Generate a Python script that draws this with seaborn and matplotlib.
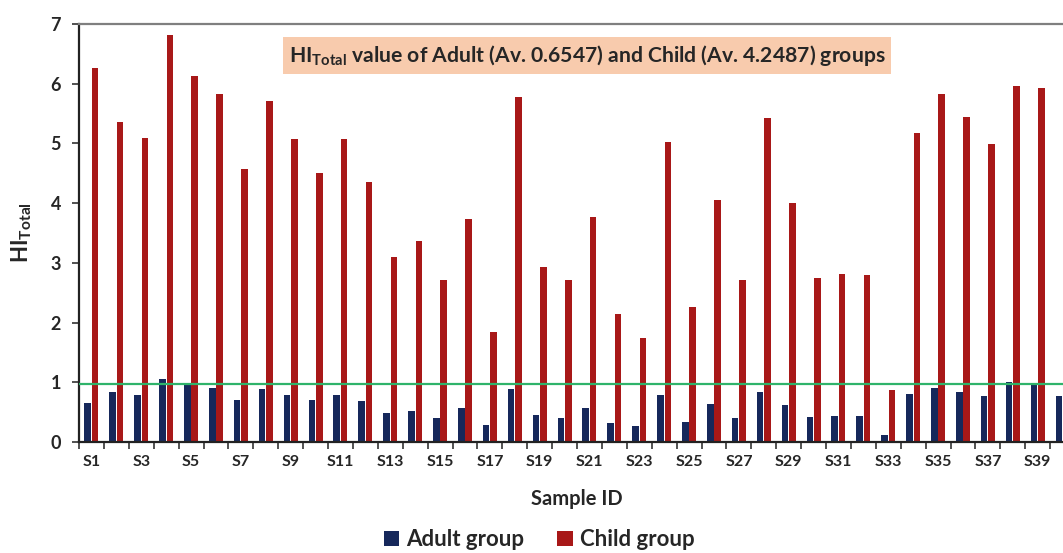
import matplotlib
matplotlib.use("Agg")
import matplotlib.pyplot as plt
import seaborn as sns
import pandas as pd

samples = ["S" + str(i) for i in range(1, 41)]

adult = [0.66, 0.83, 0.79, 1.06, 0.99, 0.90, 0.70, 0.88, 0.78, 0.70,
         0.78, 0.68, 0.48, 0.52, 0.41, 0.57, 0.28, 0.89, 0.45, 0.41,
         0.57, 0.32, 0.26, 0.78, 0.34, 0.63, 0.41, 0.84, 0.62, 0.42,
         0.44, 0.43, 0.12, 0.80, 0.90, 0.84, 0.77, 1.01, 0.99, 0.77]

child = [6.27, 5.36, 5.09, 6.82, 6.13, 5.82, 4.57, 5.71, 5.07, 4.51,
         5.08, 4.36, 3.09, 3.36, 2.71, 3.74, 1.84, 5.77, 2.93, 2.71,
         3.76, 2.14, 1.74, 5.03, 2.26, 4.05, 2.72, 5.42, 4.01, 2.74,
         2.81, 2.80, 0.87, 5.18, 5.83, 5.44, 4.99, 5.97, 5.92, 5.05]

groups = ["Adult group", "Child group"]
threshold = 0.97
title_text = r"$\mathbf{HI_{Total}}$ value of Adult (Av. 0.6547) and Child (Av. 4.2487) groups"

df = pd.DataFrame({
    "Sample": samples * 2,
    "Group": [groups[0]] * len(samples) + [groups[1]] * len(samples),
    "HI": adult + child,
})

sns.set_style("white")
plt.rcParams["font.family"] = ["Lato", "DejaVu Sans"]
plt.rcParams["mathtext.fontset"] = "custom"
plt.rcParams["mathtext.rm"] = "Lato"
plt.rcParams["mathtext.bf"] = "Lato:bold"
plt.rcParams["mathtext.it"] = "Lato:italic"

txt = "#262626"
pal = {"Adult group": "#0b2266", "Child group": "#c00000"}

fig = plt.figure(figsize=(10.63, 5.53), dpi=100)
ax = fig.add_axes([79 / 1063, 0.2007, (1075 - 79) / 1063, 0.9566 - 0.2007])

sns.barplot(data=df, x="Sample", y="HI", hue="Group", palette=pal,
            width=0.6, gap=0.12, errorbar=None, linewidth=0, ax=ax, legend=True)

# threshold line
ax.axhline(threshold, color="#2fb36a", lw=1.6, zorder=5)

ax.set_ylim(0, 7)
ax.set_xlim(-0.5, len(samples) - 0.5)
ax.set_yticks(range(0, 8))
ax.tick_params(axis="y", direction="out", length=5, width=1.2, color="#333333",
               labelsize=13, labelcolor=txt, left=True, pad=8)
for lab in ax.get_yticklabels():
    lab.set_fontweight("bold")

ax.set_xticks(range(len(samples)))
ax.set_xticklabels([s if i % 2 == 0 else "" for i, s in enumerate(samples)],
                   fontsize=11.5, fontweight="bold", color=txt)
ax.tick_params(axis="x", which="major", length=0, pad=9)
ax.set_xticks([i - 0.5 for i in range(len(samples) + 1)], minor=True)
ax.tick_params(axis="x", which="minor", direction="out", length=5, width=1.2,
               color="#333333", bottom=True)

ax.set_xlabel("Sample ID", fontsize=14.5, fontweight="bold", color=txt, labelpad=15)
ax.set_ylabel(r"$\mathbf{HI_{Total}}$", fontsize=16, color=txt, labelpad=12)

for side in ["left", "bottom"]:
    ax.spines[side].set_color("#222222")
    ax.spines[side].set_linewidth(1.6)
ax.spines["top"].set_color("#7f7f7f")
ax.spines["top"].set_linewidth(1.6)
ax.spines["right"].set_visible(False)

ax.text(0.51, 0.925, title_text, transform=ax.transAxes, ha="center", va="center",
        fontsize=15.2, fontweight="bold", color=txt,
        bbox=dict(boxstyle="square,pad=0.28", facecolor="#f8cbad", edgecolor="none"))

handles, labels = ax.get_legend_handles_labels()
ax.get_legend().remove()
fig.legend(handles, labels, loc="center", bbox_to_anchor=(539 / 1063, 0.024), ncol=2,
           frameon=False, handlelength=0.7, handleheight=0.7, handletextpad=0.3,
           columnspacing=1.5, prop={"weight": "bold", "size": 16})
for t in fig.legends[0].get_texts():
    t.set_color(txt)

fig.savefig("out.png", dpi=100)
